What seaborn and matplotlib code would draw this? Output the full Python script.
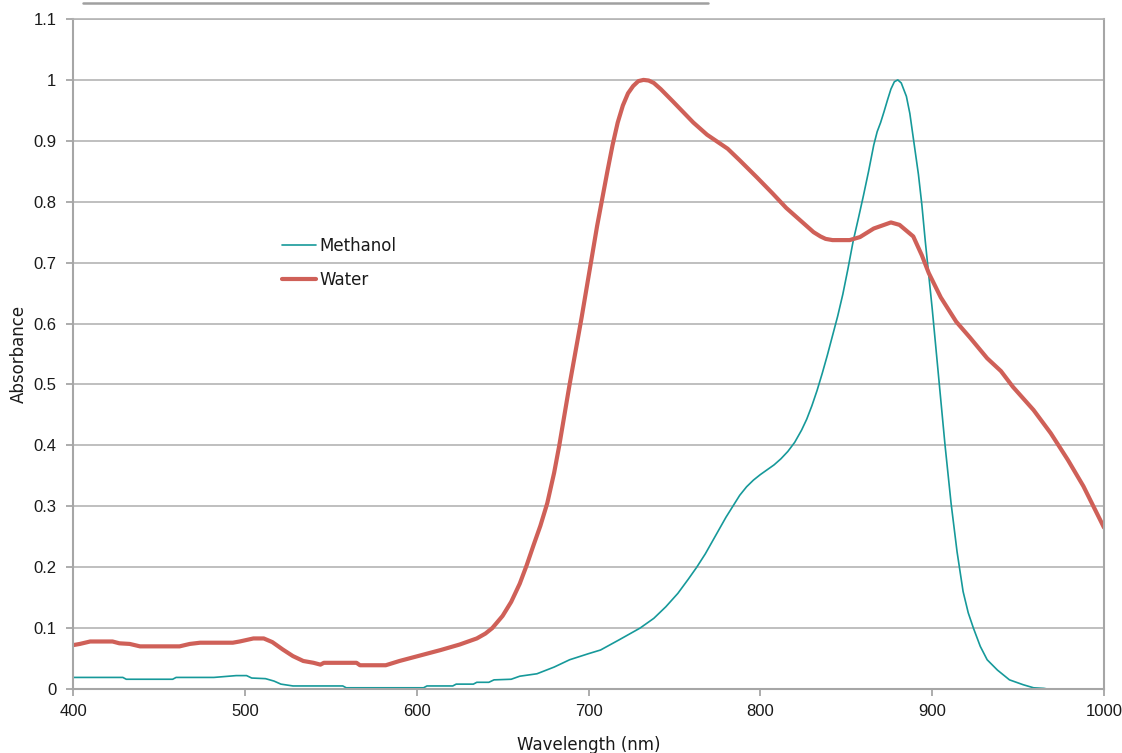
import numpy as np
import pandas as pd
import matplotlib
matplotlib.use("Agg")
import matplotlib.pyplot as plt
from matplotlib.lines import Line2D
import seaborn as sns

# ---------------- data ----------------
methanol_wl = [400, 429, 431, 458, 460, 482, 495, 501, 504, 512, 517, 521, 528, 557, 559,
               604, 606, 621, 623, 633, 635, 642, 645, 655, 660, 670, 680, 689, 700, 707,
               718, 730, 738, 745, 752, 758, 763, 768, 772, 776, 780, 784, 788, 792, 796,
               800, 804, 808, 812, 816, 820, 824, 827, 830, 833, 836, 839, 842, 845, 848,
               851, 854, 857, 860, 863, 866, 868, 870, 872, 874, 876, 878, 880, 882, 885,
               887, 889, 892, 894, 896, 898, 900, 902, 904.5, 907.5, 911, 914.5, 918, 921,
               924, 928, 932, 938, 945, 953, 959, 965, 967, 1000]
methanol_abs = [0.019, 0.019, 0.016, 0.016, 0.019, 0.019, 0.022, 0.022, 0.018, 0.017, 0.013,
                0.008, 0.005, 0.005, 0.002, 0.002, 0.005, 0.005, 0.008, 0.008, 0.011, 0.011,
                0.015, 0.016, 0.021, 0.025, 0.036, 0.048, 0.058, 0.064, 0.081, 0.100, 0.116,
                0.135, 0.157, 0.180, 0.200, 0.222, 0.242, 0.262, 0.282, 0.300, 0.318, 0.332,
                0.343, 0.352, 0.360, 0.368, 0.378, 0.390, 0.405, 0.425, 0.443, 0.465, 0.490,
                0.518, 0.548, 0.580, 0.612, 0.648, 0.690, 0.735, 0.772, 0.810, 0.850, 0.893,
                0.915, 0.930, 0.948, 0.967, 0.985, 0.997, 1.000, 0.995, 0.973, 0.945, 0.905,
                0.845, 0.795, 0.735, 0.680, 0.625, 0.565, 0.490, 0.400, 0.305, 0.225, 0.160,
                0.125, 0.100, 0.070, 0.048, 0.031, 0.015, 0.007, 0.002, 0.001, 0.000, 0.000]

water_wl = [400, 404, 410, 423, 427, 433, 439, 462, 468, 474, 493, 497, 505, 511, 516, 522,
            528, 534, 540, 544, 546, 565, 567, 582, 590, 602, 614, 625, 635, 640, 644, 650,
            655, 660, 664, 668, 672, 676, 680, 683, 686, 689, 692.5, 696, 699, 702, 705, 708,
            711, 714, 717, 720, 723, 726, 729, 732, 735, 738, 742, 749, 761, 769, 781, 788,
            798, 807, 815, 823, 827, 831, 835, 838, 842, 852, 858, 866, 876, 881, 889, 894,
            898, 905, 914, 922, 932, 940, 947, 959, 969, 979, 988, 1000]
water_abs = [0.072, 0.074, 0.078, 0.078, 0.075, 0.074, 0.070, 0.070, 0.074, 0.076, 0.076,
             0.078, 0.083, 0.083, 0.077, 0.065, 0.054, 0.046, 0.043, 0.040, 0.043, 0.043,
             0.039, 0.039, 0.046, 0.055, 0.064, 0.073, 0.083, 0.091, 0.100, 0.120, 0.143,
             0.173, 0.203, 0.236, 0.268, 0.305, 0.355, 0.400, 0.450, 0.500, 0.555, 0.610,
             0.660, 0.710, 0.760, 0.805, 0.850, 0.893, 0.930, 0.958, 0.978, 0.990, 0.998,
             1.000, 0.999, 0.995, 0.985, 0.965, 0.930, 0.910, 0.887, 0.868, 0.840, 0.814,
             0.790, 0.770, 0.760, 0.750, 0.743, 0.739, 0.737, 0.737, 0.742, 0.756, 0.766,
             0.762, 0.743, 0.712, 0.683, 0.643, 0.603, 0.577, 0.543, 0.522, 0.496, 0.458,
             0.420, 0.376, 0.333, 0.265]

series_names = ["Methanol", "Water"]
x_ticks = [400, 500, 600, 700, 800, 900, 1000]
y_ticks = [0, 0.1, 0.2, 0.3, 0.4, 0.5, 0.6, 0.7, 0.8, 0.9, 1.0, 1.1]
y_tick_labels = ["0", "0.1", "0.2", "0.3", "0.4", "0.5", "0.6", "0.7", "0.8", "0.9", "1", "1.1"]
x_label = "Wavelength (nm)"
y_label = "Absorbance"

# ---------------- styling ----------------
sns.set_theme(style="white")
plt.rcParams["font.family"] = ["DejaVu Sans"]

TEAL = "#16999a"
RED = "#cf6058"
GRID = "#b4b4b4"
SPINE = "#a6a6a6"

df_m = pd.DataFrame({"wl": methanol_wl, "abs": methanol_abs})
df_w = pd.DataFrame({"wl": water_wl, "abs": water_abs})

fig = plt.figure(figsize=(11.22, 7.53), dpi=100)
ax = fig.add_axes([73 / 1122, 64 / 753, (1104 - 73) / 1122, (689 - 19) / 753])

sns.lineplot(data=df_m, x="wl", y="abs", ax=ax, color=TEAL, linewidth=1.2,
             label=series_names[0], sort=False, estimator=None)
sns.lineplot(data=df_w, x="wl", y="abs", ax=ax, color=RED, linewidth=3.0,
             label=series_names[1], sort=False, estimator=None)
for ln in ax.get_lines():
    ln.set_solid_joinstyle("round")
    ln.set_solid_capstyle("round")

ax.set_xlim(400, 1000)
ax.set_ylim(0, 1.1)
ax.set_xticks(x_ticks)
ax.set_xticklabels([str(v) for v in x_ticks], family="Liberation Sans", fontsize=12)
ax.set_yticks(y_ticks)
ax.set_yticklabels(y_tick_labels, family="Liberation Sans", fontsize=12)

ax.yaxis.grid(True, color=GRID, linewidth=1.2)
ax.xaxis.grid(False)
ax.set_axisbelow(True)

for side in ["left", "right", "bottom"]:
    ax.spines[side].set_color(SPINE)
    ax.spines[side].set_linewidth(1.5)
ax.spines["top"].set_color(GRID)
ax.spines["top"].set_linewidth(1.2)

ax.tick_params(axis="both", direction="out", length=5, width=1.3, color=SPINE,
               labelcolor="#1a1a1a")
ax.tick_params(axis="x", pad=6, bottom=True)
ax.tick_params(axis="y", pad=7, left=True)

ax.set_xlabel(x_label, fontsize=12, color="#1a1a1a", labelpad=12)
ax.set_ylabel(y_label, fontsize=12, color="#1a1a1a", labelpad=4)

leg = ax.legend(loc="center left", bbox_to_anchor=(0.203, 0.636), frameon=False,
                fontsize=12, handlelength=2.0, handletextpad=0.25, labelspacing=1.0,
                borderpad=0, borderaxespad=0)
for t in leg.get_texts():
    t.set_color("#1a1a1a")

# decorative grey bar at the very top (as in the reference)
fig.add_artist(Line2D([83 / 1122, 708 / 1122], [1 - 2.5 / 753, 1 - 2.5 / 753],
                      transform=fig.transFigure, color="#a0a0a0", linewidth=1.8))

fig.savefig("out.png", dpi=100)
